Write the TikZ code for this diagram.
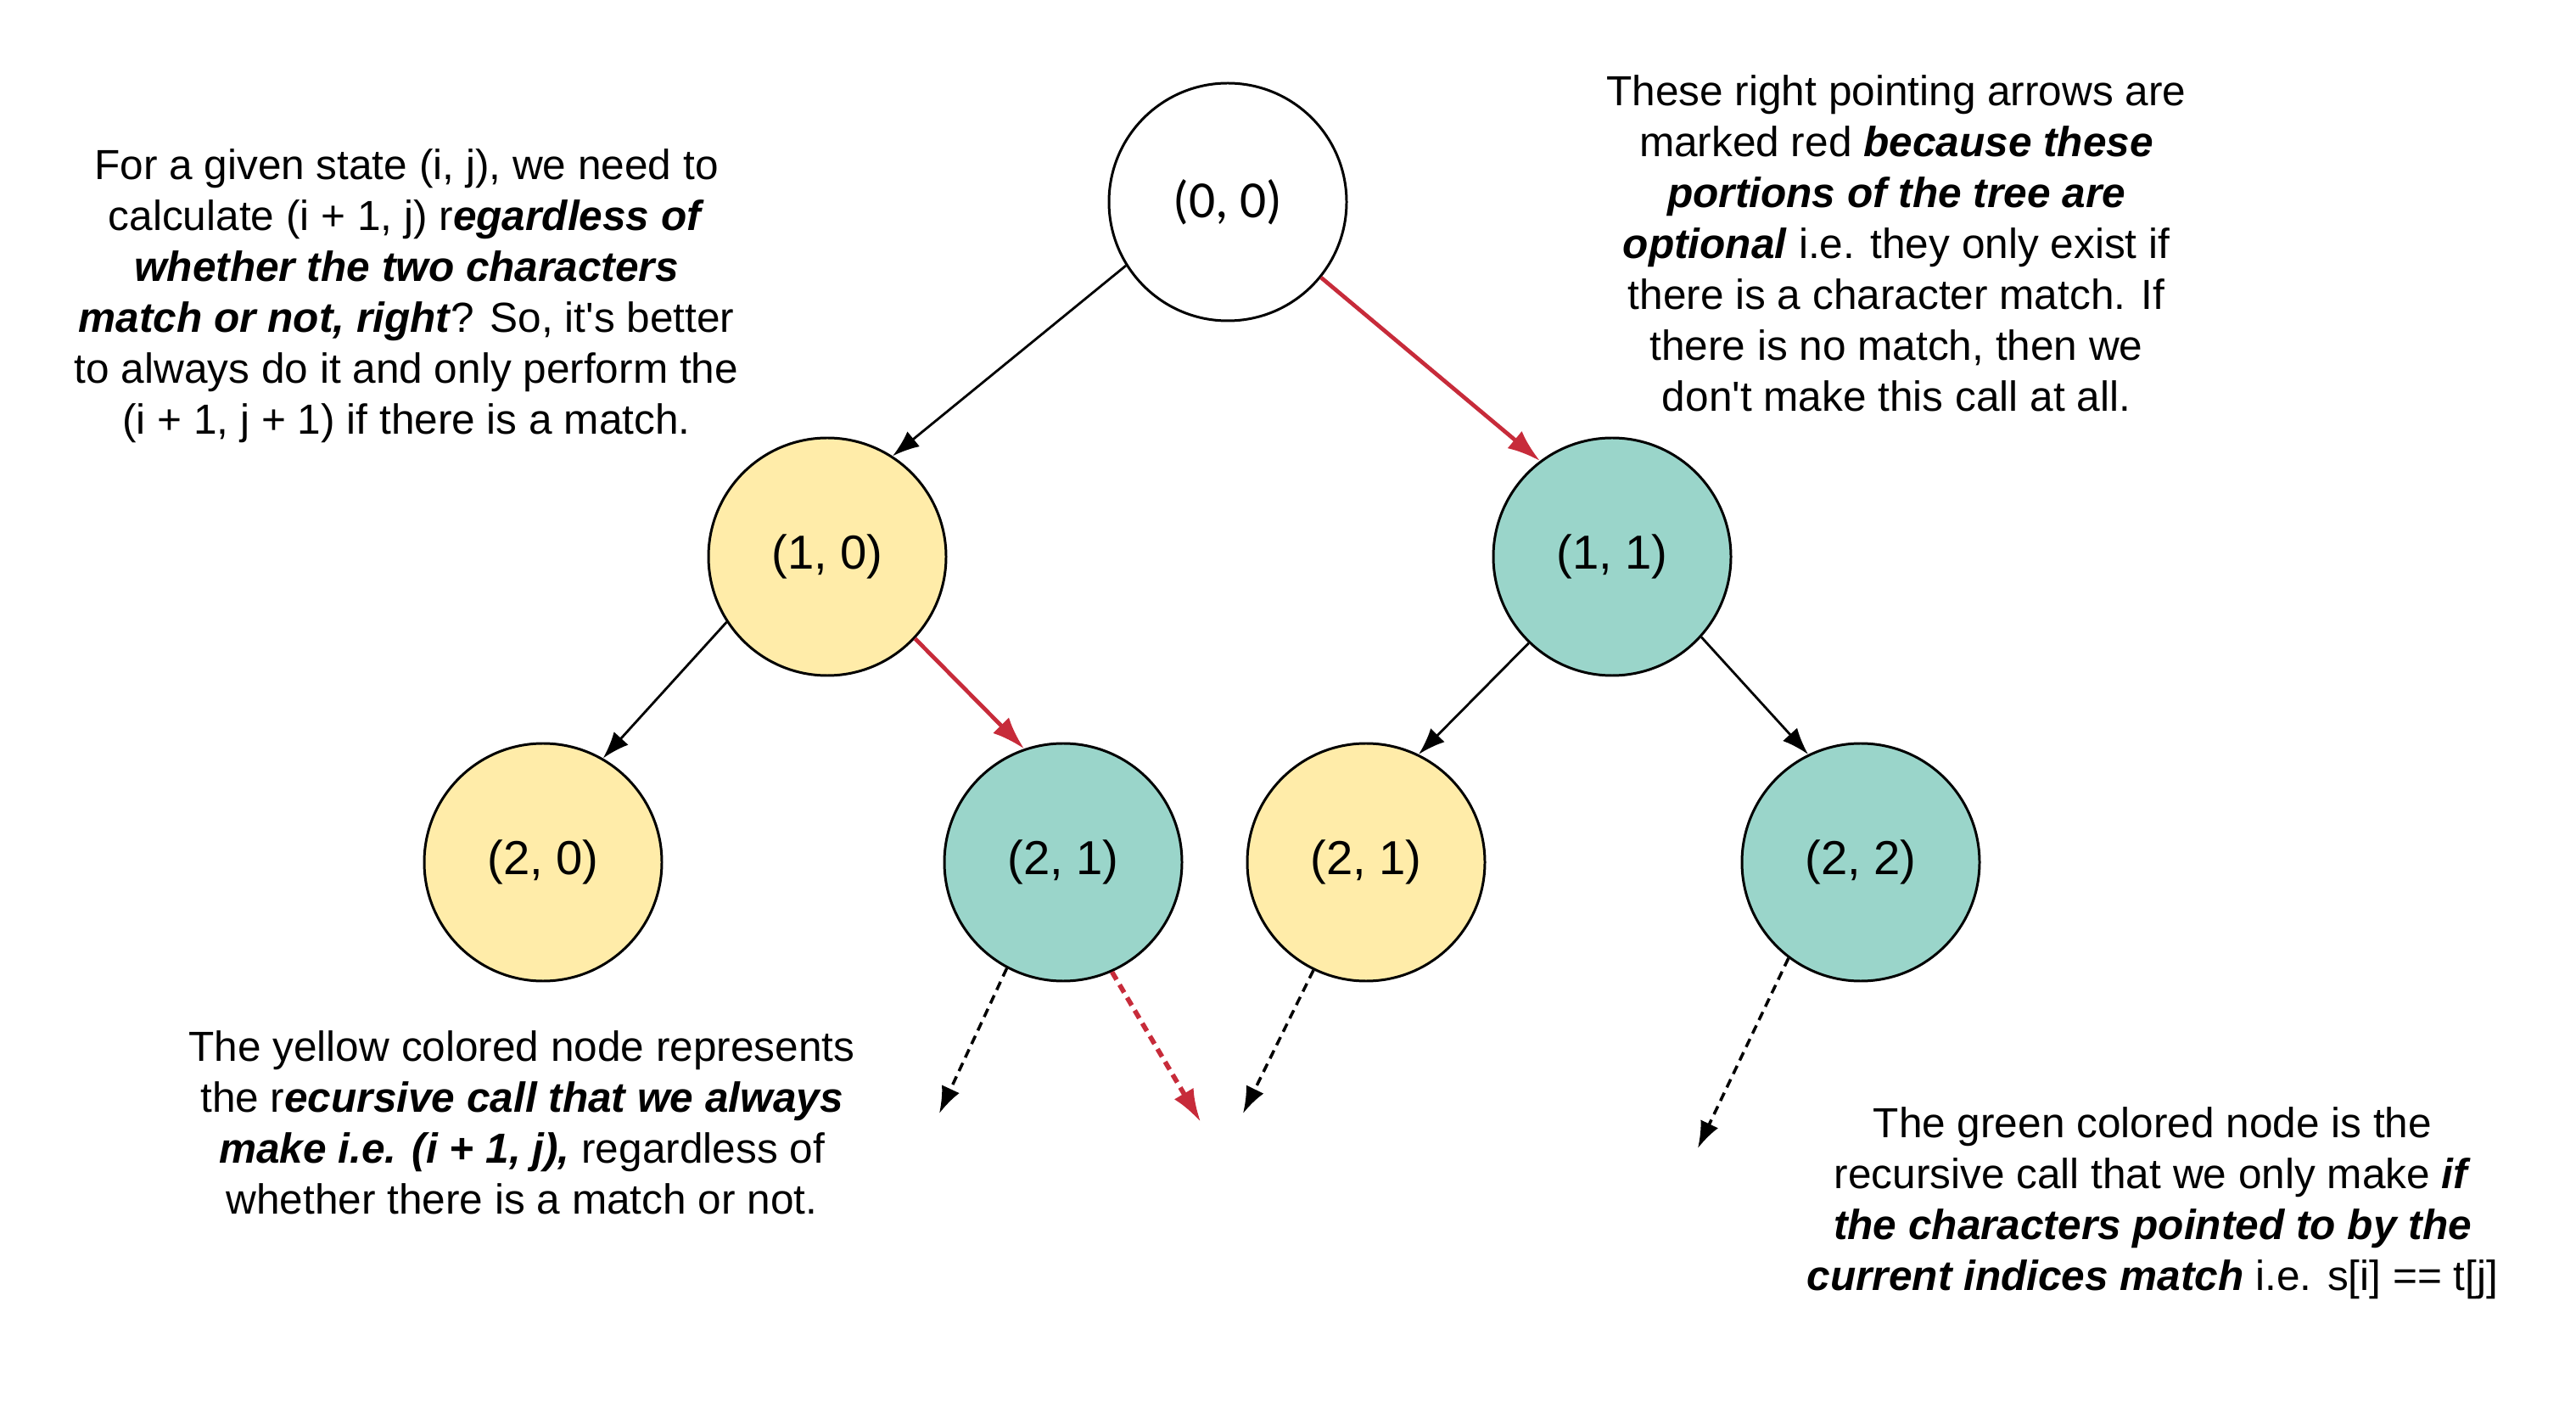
\documentclass[tikz,border=0pt]{standalone}
\usepackage{fontspec}
\setmainfont{Liberation Sans}
\newfontfamily\rootfont{Carlito}
\usetikzlibrary{arrows.meta}
\definecolor{callyellow}{HTML}{FFECA9}
\definecolor{callgreen}{HTML}{9AD5CA}
\definecolor{optred}{HTML}{C72B3A}
\tikzset{
  state/.style={circle, draw=black, line width=0.85pt, minimum size=2.8cm,
    inner sep=0pt, font=\fontsize{16}{19}\selectfont},
  always/.style={state, fill=callyellow},
  optional/.style={state, fill=callgreen},
  call/.style={-{Latex[length=9pt,width=6.5pt]}, line width=0.8pt},
  optcall/.style={-{Latex[length=11pt,width=7.5pt]}, line width=1.35pt, draw=optred},
  % the calls one level further down
  later/.style={dash pattern=on 3pt off 2pt},
  note/.style={align=center, inner sep=0pt, font=\fontsize{14.1}{17.07}\selectfont}
}

\begin{document}
\begin{tikzpicture}
  \useasboundingbox (0,0) rectangle (30.36,-16.52);
  % tree
  \node[state, font=\rootfont\fontsize{17.5}{21}\selectfont] (n00) at (14.47,-2.38) {(0, 0)};
  \node[always] (n10) at (9.75,-6.56) {(1, 0)};
  \node[optional] (n11) at (19.00,-6.56) {(1, 1)};
  \node[always] (n20) at (6.40,-10.16) {(2, 0)};
  \node[optional] (n21a) at (12.53,-10.16) {(2, 1)};
  \node[always] (n21b) at (16.10,-10.16) {(2, 1)};
  \node[optional] (n22) at (21.93,-10.16) {(2, 2)};
  \coordinate (e1) at (11.07,-13.12);
  \coordinate (e2) at (14.15,-13.22);
  \coordinate (e3) at (14.65,-13.12);
  \coordinate (e4) at (20.01,-13.53);

  \draw[call] (n00.212) -- (n10.57);
  \draw[optcall] (n00.321) -- (n11.127);
  \draw[call] (n10.213) -- (n20.60);
  \draw[optcall] (n10.317) -- (n21a.109);
  \draw[call] (n11.226) -- (n21b.64);
  \draw[call] (n11.318) -- (n22.116);
  \draw[call, later, line width=1pt] (n21a.242) -- (e1);
  \draw[optcall, later, line width=1.6pt] (n21a.294) -- (e2);
  \draw[call, later, line width=1pt] (n21b.244) -- (e3);
  \draw[call, later, line width=1pt] (n22.233) -- (e4);

  % notes
  \node[note] (tl) at (4.79,-3.49) {For a given state (i, j), we need to\\
    calculate (i + 1, j) r\textbf{\textit{egardless of}}\\
    \textbf{\textit{whether the two characters}}\\
    \textbf{\textit{match or not, right}}? So, it\textquotesingle s better\\
    to always do it and only perform the\\
    (i + 1, j + 1) if there is a match.};
  \node[note] (tr) at (22.35,-2.87) {These right pointing arrows are\\
    marked red \textbf{\textit{because these}}\\
    \textbf{\textit{portions of the tree are}}\\
    \textbf{\textit{optional}} i.e. they only exist if\\
    there is a character match. If\\
    there is no match, then we\\
    don\textquotesingle t make this call at all.};
  \node[note] (bl) at (6.15,-13.23) {The yellow colored node represents\\
    the r\textbf{\textit{ecursive call that we always}}\\
    \textbf{\textit{make i.e. (i + 1, j),}} regardless of\\
    whether there is a match or not.};
  \node[note] (br) at (25.37,-14.18) {The green colored node is the\\
    recursive call that we only make \textbf{\textit{if}}\\
    \textbf{\textit{the characters pointed to by the}}\\
    \textbf{\textit{current indices match}} i.e. s[i] == t[j]};
\end{tikzpicture}
\end{document}
